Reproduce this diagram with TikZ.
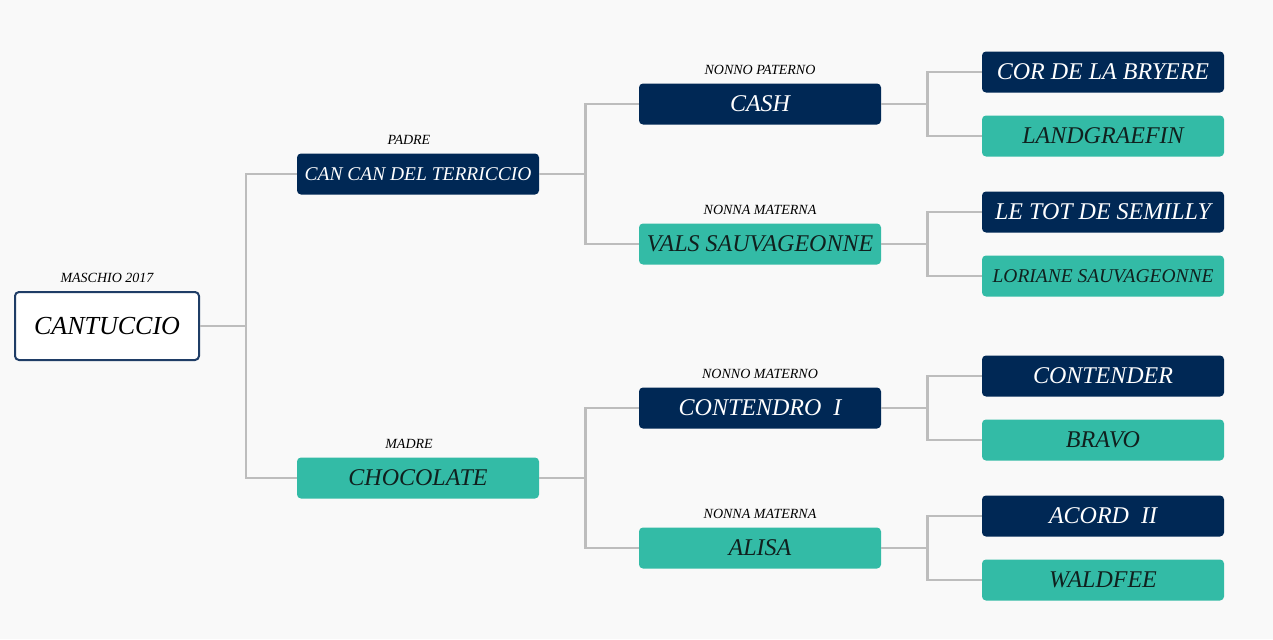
\documentclass[tikz,border=0pt]{standalone}
\usepackage{fontspec}
\setmainfont{Liberation Serif}
\usetikzlibrary{positioning}

\definecolor{navy}{HTML}{002855}
\definecolor{jade}{HTML}{33BBA6}
\definecolor{wire}{HTML}{BDBDBD}
\definecolor{paper}{HTML}{F9F9F9}
\definecolor{ink}{HTML}{10201E}
\definecolor{rim}{HTML}{1F3D66}

\newcommand{\rootfont}{\fontsize{19.5}{22}\selectfont\itshape}
\newcommand{\genfont}{\fontsize{18}{20}\selectfont\itshape}
\newcommand{\slimfont}{\fontsize{14.6}{17}\selectfont\itshape}
\newcommand{\tagfont}{\fontsize{10.5}{12}\selectfont\itshape}

\begin{document}
\begin{tikzpicture}
\tikzstyle{horse}=[
	rectangle,
	rounded corners=3pt,
	minimum width=181.5pt,
	minimum height=30.75pt,
	inner sep=0pt,
	font=\genfont ]
\tikzstyle{dark}=[fill=navy, text=white]
\tikzstyle{light}=[fill=jade, text=ink]
\tikzstyle{root}=[fill=white, draw=rim, line width=1.5pt, text=black,
	minimum width=138pt, minimum height=51pt, font=\rootfont]
\tikzstyle{tag}=[minimum width=0pt, minimum height=0pt, inner sep=0pt,
	font=\tagfont, text=black]
\tikzstyle{every node}=[horse]
\tikzstyle{edge from parent}=[draw=wire, line width=2pt, sharp corners]
\tikzstyle{level 1}=[level distance=233.25pt, sibling distance=228pt]
\tikzstyle{level 2}=[level distance=256.5pt, sibling distance=105pt]
\tikzstyle{level 3}=[level distance=257.25pt, sibling distance=48pt]

\useasboundingbox (0,0) rectangle (954.75pt,-479.25pt);
\fill[paper] (0,0) rectangle (954.75pt,-479.25pt);

\node[root] (cantuccio) at (80.25pt,-244.5pt) {CANTUCCIO}
	[grow'=right, edge from parent path={(\tikzparentnode.east) -- +(34.5pt,0) |- (\tikzchildnode.west)}]
	child {node[dark, font=\slimfont] (cancan) {CAN CAN DEL TERRICCIO}
		child {node[dark] (cash) {CASH}
			child {node[dark] (cor) {COR DE LA BRYERE}}
			child {node[light] (landgraefin) {LANDGRAEFIN}}
		}
		child {node[light] (vals) {VALS SAUVAGEONNE}
			child {node[dark] (letot) {LE TOT DE SEMILLY}}
			child {node[light, font=\slimfont] (loriane) {LORIANE SAUVAGEONNE}}
		}
	}
	child {node[light] (chocolate) {CHOCOLATE}
		child {node[dark] (contendro) {CONTENDRO\ \ I}
			child {node[dark] (contender) {CONTENDER}}
			child {node[light] (bravo) {BRAVO}}
		}
		child {node[light] (alisa) {ALISA}
			child {node[dark] (acord) {ACORD\ \ II}}
			child {node[light] (waldfee) {WALDFEE}}
		}
	}
;

% etichette sopra i riquadri
\node[tag, above=6pt of cantuccio] (maschio) {MASCHIO 2017};
\node[tag, above=6pt of cancan, xshift=-6.75pt] (padre) {PADRE};
\node[tag, above=6.5pt of chocolate, xshift=-6.75pt] (madre) {MADRE};
\node[tag, above=6.5pt of cash] (nonnopat) {NONNO PATERNO};
\node[tag, above=6.5pt of vals] (nonnamat) {NONNA MATERNA};
\node[tag, above=6.5pt of contendro] (nonnomat) {NONNO MATERNO};
\node[tag, above=6.5pt of alisa] (nonnamat2) {NONNA MATERNA};
\end{tikzpicture}
\end{document}
